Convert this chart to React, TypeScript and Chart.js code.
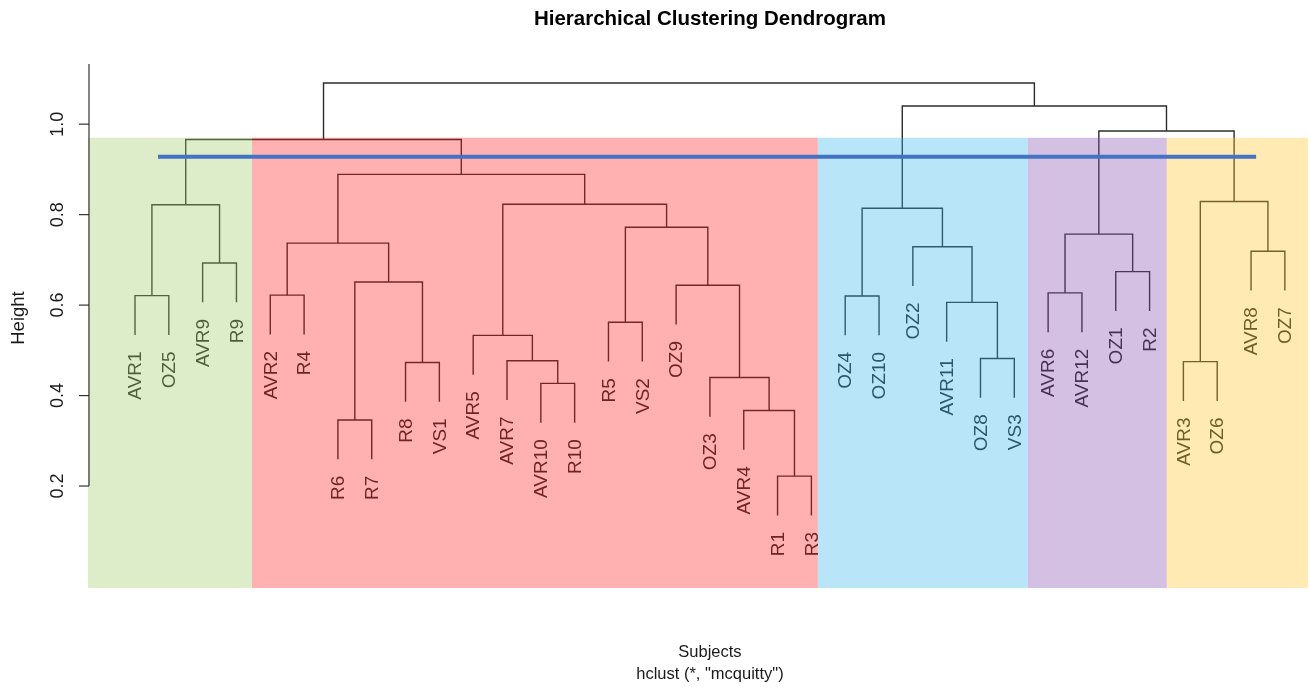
import { useEffect, useRef } from "react";
import { Chart, registerables } from "chart.js";

Chart.register(...registerables);

// Leaves in plotting order (left to right)
const leafLabels = [
  "AVR1", "OZ5", "AVR9", "R9",
  "AVR2", "R4", "R6", "R7", "R8", "VS1", "AVR5", "AVR7", "AVR10", "R10",
  "R5", "VS2", "OZ9", "OZ3", "AVR4", "R1", "R3",
  "OZ4", "OZ10", "OZ2", "AVR11", "OZ8", "VS3",
  "AVR6", "AVR12", "OZ1", "R2",
  "AVR3", "OZ6", "AVR8", "OZ7",
];

// hclust-style merge table: negative = leaf number (1-based), positive = earlier merge (1-based)
const mergeLeft = [
  -20, -7, -19, -13, -18, -9, -32, -12, -26, -11, -15, -25, -22, -1, -5, -28, -17,
  2, -30, -3, -34, -24, 15, 16, 11, 13, 14, 10, 7, 23, 27, 24, 26, 31,
];
const mergeRight = [
  -21, -8, 1, -14, 3, -10, -33, 4, -27, 8, -16, 9, -23, -2, -6, -29, 5,
  6, -31, -4, -35, 12, 18, 19, 17, 22, 20, 25, 21, 28, 30, 29, 32, 33,
];
const mergeHeights = [
  0.222, 0.346, 0.367, 0.427, 0.44, 0.473, 0.475, 0.477, 0.482, 0.533, 0.562,
  0.606, 0.62, 0.621, 0.622, 0.627, 0.644, 0.651, 0.674, 0.693, 0.719, 0.729,
  0.737, 0.757, 0.772, 0.814, 0.822, 0.823, 0.829, 0.889, 0.966, 0.985, 1.04, 1.091,
];

const yTicks = [0.2, 0.4, 0.6, 0.8, 1.0];

// Cluster boxes (k = 5): boundaries along the leaf axis
const clusterBounds = [-0.39, 4.46, 21.19, 27.4, 31.51, 35.68];
const clusterColors = [
  "rgba(158, 204, 101, 0.35)",
  "rgba(255, 29, 29, 0.35)",
  "rgba(52, 181, 234, 0.35)",
  "rgba(133, 75, 172, 0.35)",
  "rgba(252, 195, 35, 0.35)",
];
const clusterTop = 0.97;
const clusterBottom = -0.0254;

// Cut line
const cutHeight = 0.928;
const cutFrom = 1.68;
const cutTo = 34.15;

const FONT = "'Liberation Sans', Arial, Helvetica, sans-serif";
const LINE_COLOR = "#2c2c2c";

function buildTree() {
  const hMax = Math.max(...mergeHeights);
  const hMin = Math.min(...mergeHeights);
  const hang = 0.1 * (hMax - hMin);
  const nodeX: number[] = [];
  const leafBottom: number[] = new Array(leafLabels.length).fill(0);
  const segments: { x: number; y: number }[][] = [];
  for (let k = 0; k < mergeHeights.length; k++) {
    const h = mergeHeights[k];
    const side = (v: number) => {
      if (v < 0) {
        const x = -v;
        leafBottom[x - 1] = h - hang;
        return { x, y: h - hang };
      }
      return { x: nodeX[v - 1], y: mergeHeights[v - 1] };
    };
    const l = side(mergeLeft[k]);
    const r = side(mergeRight[k]);
    nodeX[k] = (l.x + r.x) / 2;
    segments.push([
      { x: l.x, y: l.y },
      { x: l.x, y: h },
      { x: r.x, y: h },
      { x: r.x, y: r.y },
    ]);
  }
  return { segments, leafBottom };
}

export default function App() {
  const canvasRef = useRef<HTMLCanvasElement | null>(null);

  useEffect(() => {
    if (!canvasRef.current) return;
    const { segments, leafBottom } = buildTree();

    const decorations = {
      id: "dendroDecor",
      beforeDatasetsDraw(chart: any) {
        const { ctx, scales } = chart;
        const xs = scales.x;
        const ys = scales.y;
        ctx.save();
        ctx.fillStyle = "#262626";
        ctx.font = `19px ${FONT}`;
        ctx.textAlign = "right";
        ctx.textBaseline = "middle";
        leafLabels.forEach((lab, i) => {
          const px = xs.getPixelForValue(i + 1);
          const py = ys.getPixelForValue(leafBottom[i]) + 16.5;
          ctx.save();
          ctx.translate(px, py);
          ctx.rotate(-Math.PI / 2);
          ctx.fillText(lab, 0, 1);
          ctx.restore();
        });
        ctx.restore();
      },
      beforeDatasetDraw(chart: any, args: any) {
        if (args.index !== 0) return;
        const { ctx, scales } = chart;
        const xs = scales.x;
        const ys = scales.y;
        ctx.save();
        const top = ys.getPixelForValue(clusterTop);
        const bottom = ys.getPixelForValue(clusterBottom);
        for (let i = 0; i < clusterColors.length; i++) {
          const x0 = xs.getPixelForValue(clusterBounds[i]);
          const x1 = xs.getPixelForValue(clusterBounds[i + 1]);
          ctx.fillStyle = clusterColors[i];
          ctx.fillRect(x0, top, x1 - x0, bottom - top);
        }
        ctx.restore();
      },
      afterDraw(chart: any) {
        const { ctx, scales } = chart;
        const xs = scales.x;
        const ys = scales.y;
        ctx.save();
        // y axis
        const ax = xs.getPixelForValue(xs.min);
        ctx.strokeStyle = "#333";
        ctx.lineWidth = 1.2;
        ctx.beginPath();
        ctx.moveTo(ax, ys.getPixelForValue(yTicks[0]));
        ctx.lineTo(ax, ys.getPixelForValue(ys.max));
        ctx.stroke();
        ctx.fillStyle = "#1a1a1a";
        ctx.font = `18px ${FONT}`;
        ctx.textAlign = "center";
        ctx.textBaseline = "middle";
        yTicks.forEach((t) => {
          const py = ys.getPixelForValue(t);
          ctx.beginPath();
          ctx.moveTo(ax - 10, py);
          ctx.lineTo(ax, py);
          ctx.stroke();
          ctx.save();
          ctx.translate(ax - 31, py);
          ctx.rotate(-Math.PI / 2);
          ctx.fillText(t.toFixed(1), 0, 0);
          ctx.restore();
        });
        // axis title
        ctx.save();
        ctx.font = `18.5px ${FONT}`;
        ctx.translate(19, 318);
        ctx.rotate(-Math.PI / 2);
        ctx.fillText("Height", 0, 0);
        ctx.restore();
        // main title and x labels
        const cx = xs.getPixelForValue(18);
        ctx.fillStyle = "#000";
        ctx.font = `bold 20.5px ${FONT}`;
        ctx.fillText("Hierarchical Clustering Dendrogram", cx, 19);
        ctx.font = `16.5px ${FONT}`;
        ctx.fillStyle = "#1a1a1a";
        ctx.fillText("Subjects", cx, 652);
        ctx.fillText('hclust (*, "mcquitty")', cx, 674);
        ctx.restore();
      },
    };

    const datasets: any[] = [
      {
        label: "cut",
        data: [
          { x: cutFrom, y: cutHeight },
          { x: cutTo, y: cutHeight },
        ],
        borderColor: "#4472C4",
        borderWidth: 4,
        pointRadius: 0,
        fill: false,
        tension: 0,
      },
      ...segments.map((seg, i) => ({
        label: `merge ${i + 1}`,
        data: seg,
        borderColor: LINE_COLOR,
        borderWidth: 1.4,
        pointRadius: 0,
        fill: false,
        tension: 0,
      })),
    ];

    const chart = new Chart(canvasRef.current, {
      type: "line",
      data: { datasets },
      options: {
        animation: false,
        responsive: true,
        maintainAspectRatio: false,
        layout: { padding: { left: 89, right: 0, top: 64, bottom: 99 } },
        plugins: {
          legend: { display: false },
          tooltip: { enabled: false },
          title: { display: false },
        },
        scales: {
          x: { type: "linear", display: false, min: -0.36, max: 35.714 },
          y: { type: "linear", display: false, min: clusterBottom, max: 1.133 },
        },
      },
      plugins: [decorations],
    });
    return () => chart.destroy();
  }, []);

  return (
    <div style={{ position: "absolute", left: 0, top: 0, width: 1309, height: 687, background: "#fff" }}>
      <canvas ref={canvasRef} />
    </div>
  );
}
